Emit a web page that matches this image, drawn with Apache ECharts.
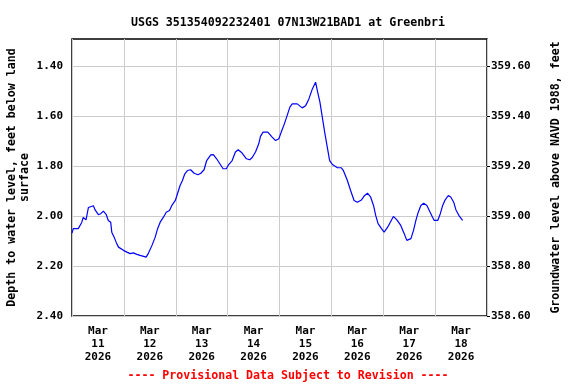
<!DOCTYPE html>
<html><head><meta charset="utf-8">
<script src="https://cdn.jsdelivr.net/npm/echarts@6/dist/echarts.min.js"></script>
<style>html,body{margin:0;padding:0;background:#fff}#c{width:576px;height:384px}</style>
</head><body><div id="c"></div>
<script>
// hours since 2026-03-11 00:00
const hours = [0,0.6,2.9,4.5,5.2,6.5,7.6,8.3,9.9,10.7,12.2,13.3,14.5,15.8,16.8,17.9,18.4,19.5,20.4,21.5,22.3,23.8,25.4,26.9,28.4,30.0,31.5,32.3,34.3,35.4,37.0,38.5,39.6,40.8,42.3,43.6,45.1,46.2,47.8,48.8,50.0,51.1,52.2,53.4,54.9,56.5,58.3,59.6,61.1,62.3,64.2,65.4,66.9,68.4,69.9,71.4,72.5,74.1,75.6,76.9,78.7,80.7,82.2,83.3,84.9,86.4,87.2,88.4,90.6,92.6,94.2,95.7,96.8,98.0,99.3,100.8,101.9,104.2,104.8,106.5,108.1,109.6,111.2,112.7,113.5,114.7,115.8,116.9,118.1,119.2,120.5,122.8,124.6,125.5,127.4,128.9,130.5,132.0,133.9,135.4,136.7,138.2,139.5,140.5,141.6,143.2,144.4,145.9,147.5,148.7,150.3,152.1,153.7,154.9,155.5,156.8,158.0,159.1,160.2,161.4,162.7,164.2,165.3,166.8,167.6,169.2,170.4,171.5,172.5,174.1,175.3,176.6,177.6,179.2,180.7];
const depth = [2.068,2.05,2.05,2.025,2.005,2.015,1.965,1.958,1.958,1.975,1.994,1.99,1.98,1.993,2.017,2.024,2.064,2.084,2.104,2.124,2.13,2.137,2.144,2.15,2.147,2.153,2.157,2.164,2.164,2.148,2.117,2.084,2.05,2.024,2.004,1.984,1.977,1.957,1.937,1.91,1.877,1.857,1.83,1.817,1.814,1.828,1.834,1.828,1.814,1.777,1.754,1.753,1.77,1.79,1.81,1.81,1.793,1.777,1.743,1.734,1.747,1.77,1.774,1.766,1.743,1.71,1.68,1.663,1.663,1.683,1.697,1.69,1.663,1.636,1.603,1.563,1.55,1.55,1.557,1.566,1.557,1.53,1.49,1.463,1.497,1.543,1.603,1.663,1.723,1.777,1.793,1.806,1.806,1.816,1.857,1.897,1.937,1.944,1.935,1.917,1.908,1.924,1.957,1.997,2.03,2.05,2.064,2.046,2.02,2.001,2.015,2.037,2.07,2.097,2.104,2.09,2.057,2.017,1.984,1.957,1.948,1.957,1.977,2.004,2.017,2.017,1.99,1.957,1.937,1.917,1.924,1.944,1.974,2.0,2.017];
const dayLabels = ["Mar\n11\n2026","Mar\n12\n2026","Mar\n13\n2026","Mar\n14\n2026","Mar\n15\n2026","Mar\n16\n2026","Mar\n17\n2026","Mar\n18\n2026"];
const depthTicks = [1.4,1.6,1.8,2.0,2.2,2.4];
const elevTicks = [358.6,358.8,359.0,359.2,359.4,359.6];
const titleText = "USGS 351354092232401 07N13W21BAD1 at Greenbri";
const leftName = "Depth to water level, feet below land\nsurface";
const rightName = "Groundwater level above NAVD 1988, feet";
const footText = "---- Provisional Data Subject to Revision ----";

const F = "'DejaVu Sans Mono', monospace";
const chart = echarts.init(document.getElementById('c'), null, {renderer:'canvas'});
const dayTicks = dayLabels.map((_, i) => i*24).concat([192]);
const noonTicks = dayLabels.map((_, i) => i*24+12);
chart.setOption({
  animation:false,
  title:[{text:titleText,left:'center',top:12,textStyle:{fontFamily:F,fontSize:11.6,fontWeight:'bold',color:'#000'}},
         {text:footText,left:'center',top:365,textStyle:{fontFamily:F,fontSize:11.6,fontWeight:'bold',color:'#ff0000'}}],
  grid:{left:72,right:89,top:39,bottom:68,containLabel:false,outerBoundsMode:'none',show:true,borderColor:'#000',borderWidth:1.5,backgroundColor:'transparent'},
  xAxis:{type:'value',min:0,max:192,
    axisLine:{show:false},
    axisTick:{show:false,customValues:dayTicks},
    splitLine:{show:true,lineStyle:{color:'#cccccc',width:1}},
    axisLabel:{customValues:noonTicks,margin:9,lineHeight:13,fontFamily:F,fontSize:11,fontWeight:'bold',color:'#000',
      formatter:v=>dayLabels[Math.round((v-12)/24)]}},
  yAxis:[{type:'value',inverse:true,min:1.29,max:2.40,position:'left',
      name:leftName,nameLocation:'middle',nameGap:41,nameRotate:90,nameMoveOverlap:false,
      nameTextStyle:{fontFamily:F,fontSize:11.6,fontWeight:'bold',color:'#000',lineHeight:13},
      axisLine:{show:false},
      axisTick:{show:false,customValues:depthTicks},
      splitLine:{show:true,lineStyle:{color:'#cccccc',width:1}},
      axisLabel:{customValues:depthTicks,margin:9,fontFamily:F,fontSize:11,fontWeight:'bold',color:'#000',formatter:v=>v.toFixed(2)}},
    {type:'value',min:358.60,max:359.71,position:'right',
      name:rightName,nameLocation:'middle',nameGap:63,nameRotate:90,nameMoveOverlap:false,
      nameTextStyle:{fontFamily:F,fontSize:11.6,fontWeight:'bold',color:'#000'},
      axisLine:{show:false},
      axisTick:{show:true,inside:false,length:3,customValues:elevTicks,lineStyle:{color:'#000'}},
      splitLine:{show:false},
      axisLabel:{customValues:elevTicks,margin:4,fontFamily:F,fontSize:11,fontWeight:'bold',color:'#000',formatter:v=>v.toFixed(2)}}],
  series:[{type:'line',xAxisIndex:0,yAxisIndex:0,showSymbol:false,
    data:hours.map((h,i)=>[h,depth[i]]),
    lineStyle:{color:'#0000ff',width:1.2},itemStyle:{color:'#0000ff'}}]
});
</script></body></html>
